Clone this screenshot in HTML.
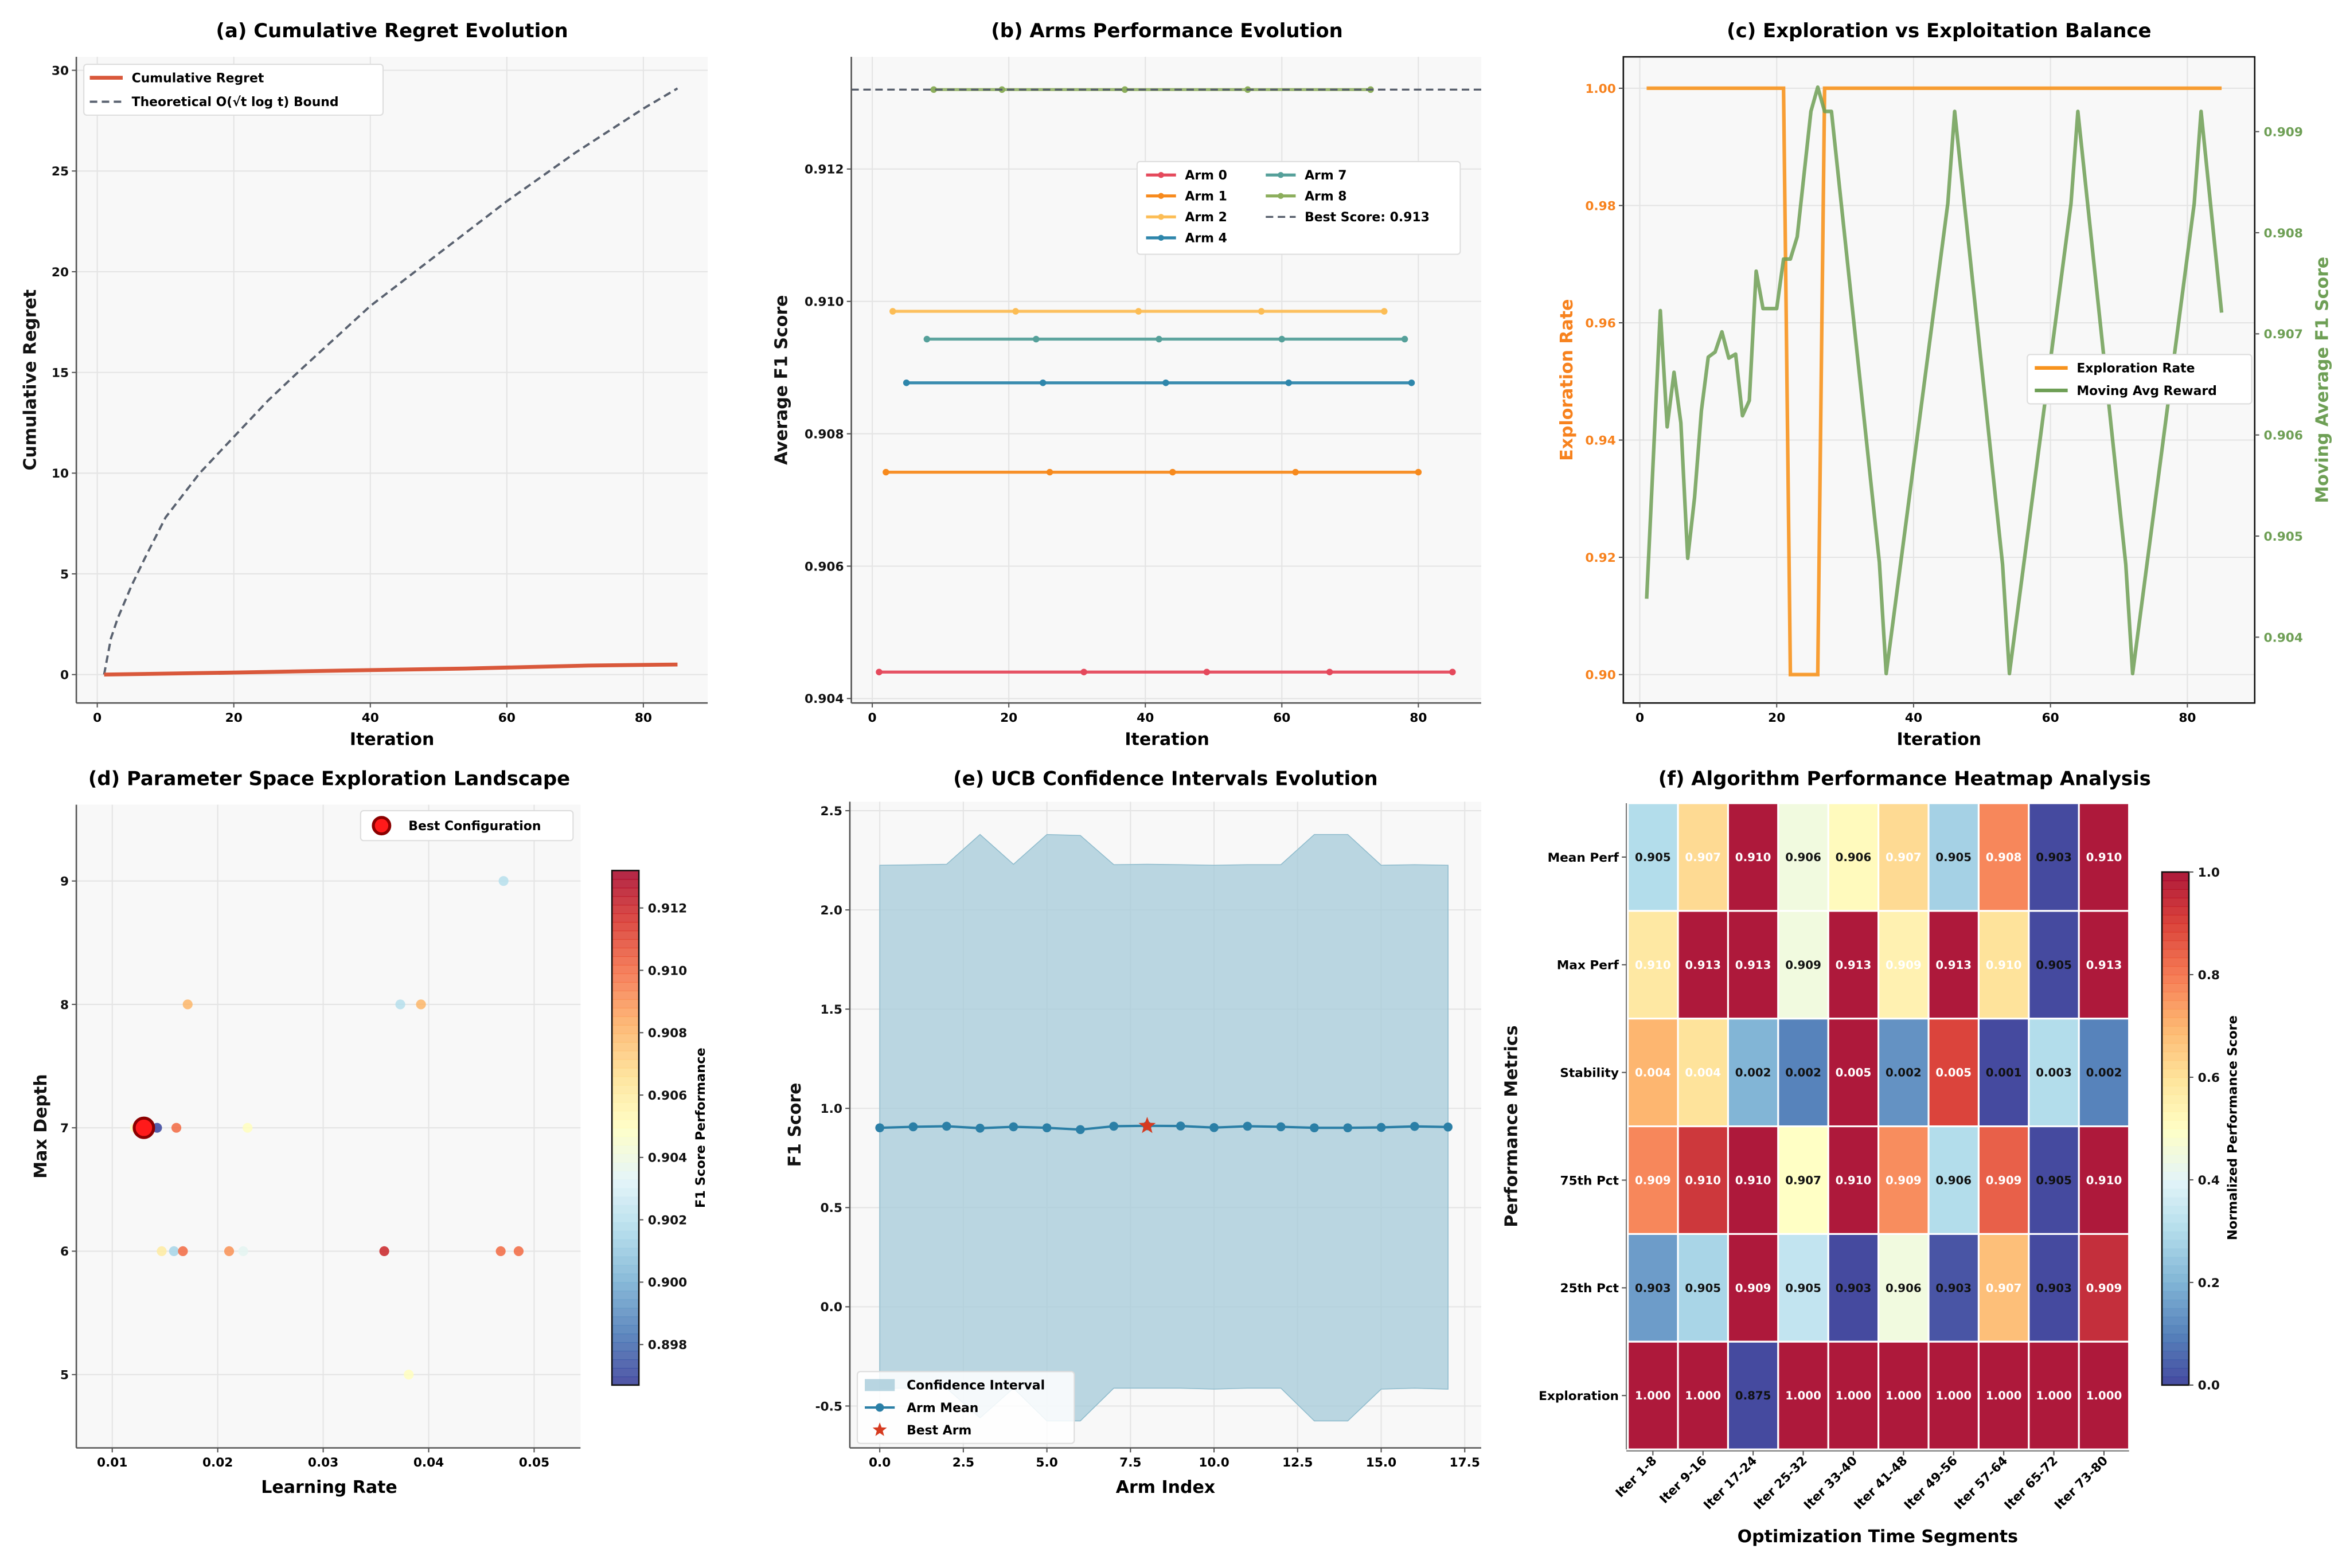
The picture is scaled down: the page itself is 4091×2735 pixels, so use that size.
<!DOCTYPE html>
<html><head><meta charset="utf-8"><style>
html,body{margin:0;padding:0;background:#fff}
svg{display:block}
text{font-family:"DejaVu Sans","Liberation Sans",sans-serif;font-weight:bold}
</style></head><body>
<svg id="chart" xmlns="http://www.w3.org/2000/svg" width="4091" height="2735" viewBox="0 0 1568 1048.3"></svg>
<script>
// ---------- Panel (a) data ----------
const regretIter=[1,20,36,54,72,85];
const regretVals=[0,0.1,0.2,0.3,0.45,0.5];
const boundIter=[1,2,3,4,5,7,10,15,20,25,30,40,50,60,70,80,85];
const boundVals=[0,1.8,2.8,3.6,4.4,5.8,7.8,10.0,11.8,13.6,15.2,18.3,20.9,23.5,25.9,28.1,29.1];
const aXTicks=[0,20,40,60,80];
const aYTicks=[0,5,10,15,20,25,30];
// ---------- Panel (b) data ----------
const armNames=['Arm 0','Arm 1','Arm 2','Arm 4','Arm 7','Arm 8'];
const armIters=[[1,31,49,67,85],[2,26,44,62,80],[3,21,39,57,75],[5,25,43,61,79],[8,24,42,60,78],[9,19,37,55,73]];
const armScores=[0.90440,0.90742,0.90985,0.90877,0.90943,0.91320];
const bestScore=0.9132;
const bXTicks=[0,20,40,60,80];
const bYTicks=[0.904,0.906,0.908,0.910,0.912];
// ---------- Panel (c) data ----------
const explIter=[1,21,22,26,27,85];
const explRate=[1,1,0.9,0.9,1,1];
const rewardIter=[1,3,4,5,6,7,8,9,10,11,12,13,14,15,16,17,18,19,20,21,22,23,25,26,27,28,35,36,45,46,53,54,63,64,71,72,81,82,85];
const rewardVals=[0.90438,0.90723,0.90608,0.90662,0.90612,0.90478,0.90538,0.90624,0.90677,0.90682,0.90702,0.90676,0.9068,0.90619,0.90634,0.90762,0.90725,0.90725,0.90725,0.90774,0.90774,0.90796,0.9092,0.90944,0.9092,0.9092,0.90474,0.90364,0.90829,0.9092,0.90472,0.90364,0.90829,0.9092,0.90472,0.90364,0.90829,0.9092,0.90721];
const cXTicks=[0,20,40,60,80];
const cYTicks=[0.90,0.92,0.94,0.96,0.98,1.00];
const cY2Ticks=[0.904,0.905,0.906,0.907,0.908,0.909];
// ---------- Panel (d) data ----------
const lrVals=[0.0471,0.01715,0.03731,0.03927,0.01215,0.01425,0.01608,0.02283,0.01469,0.01585,0.0167,0.02108,0.02242,0.03579,0.04683,0.04853,0.03811];
const depthVals=[9,8,8,8,7,7,7,7,6,6,6,6,6,6,6,6,5];
const f1Vals=[0.9020,0.9080,0.9020,0.9080,0.9050,0.8970,0.9100,0.9050,0.9060,0.9015,0.9100,0.9090,0.9035,0.9120,0.9100,0.9100,0.9050];
const bestLr=0.0130, bestDepth=7;
const dXTicks=[0.01,0.02,0.03,0.04,0.05];
const dYTicks=[5,6,7,8,9];
const dCbTicks=[0.898,0.900,0.902,0.904,0.906,0.908,0.910,0.912];
// ---------- Panel (e) data ----------
const armIdx=[0,1,2,3,4,5,6,7,8,9,10,11,12,13,14,15,16,17];
const armMeans=[0.902,0.907,0.910,0.900,0.907,0.902,0.893,0.910,0.912,0.911,0.903,0.910,0.907,0.902,0.902,0.904,0.909,0.906];
const ciUpper=[2.225,2.227,2.23,2.38,2.23,2.38,2.375,2.228,2.23,2.228,2.225,2.228,2.228,2.38,2.38,2.225,2.228,2.225];
const ciLower=[-0.41,-0.41,-0.41,-0.56,-0.41,-0.575,-0.575,-0.41,-0.41,-0.41,-0.415,-0.41,-0.41,-0.575,-0.575,-0.415,-0.41,-0.415];
const bestArm=8;
const eXTicks=[0,2.5,5,7.5,10,12.5,15,17.5];
const eYTicks=[-0.5,0,0.5,1.0,1.5,2.0,2.5];
// ---------- Panel (f) data ----------
const segLabels=['Iter 1-8','Iter 9-16','Iter 17-24','Iter 25-32','Iter 33-40','Iter 41-48','Iter 49-56','Iter 57-64','Iter 65-72','Iter 73-80'];
const metricLabels=['Mean Perf','Max Perf','Stability','75th Pct','25th Pct','Exploration'];
const heatText=[
['0.905','0.907','0.910','0.906','0.906','0.907','0.905','0.908','0.903','0.910'],
['0.910','0.913','0.913','0.909','0.913','0.909','0.913','0.910','0.905','0.913'],
['0.004','0.004','0.002','0.002','0.005','0.002','0.005','0.001','0.003','0.002'],
['0.909','0.910','0.910','0.907','0.910','0.909','0.906','0.909','0.905','0.910'],
['0.903','0.905','0.909','0.905','0.903','0.906','0.903','0.907','0.903','0.909'],
['1.000','1.000','0.875','1.000','1.000','1.000','1.000','1.000','1.000','1.000']];
const heatNorm=[
[0.30,0.62,1.00,0.45,0.52,0.62,0.27,0.78,0.00,1.00],
[0.58,1.00,1.00,0.45,1.00,0.55,1.00,0.60,0.00,1.00],
[0.70,0.60,0.20,0.10,1.00,0.13,0.90,0.00,0.30,0.10],
[0.78,0.93,1.00,0.50,1.00,0.77,0.30,0.85,0.00,1.00],
[0.15,0.28,1.00,0.33,0.00,0.45,0.02,0.68,0.00,0.95],
[1,1,0,1,1,1,1,1,1,1]];
const fCbTicks=[0,0.2,0.4,0.6,0.8,1.0];

const NS='http://www.w3.org/2000/svg';
const svg=document.getElementById('chart');
const TK=8.3, TT=13, AL=11.5, LG=8.4;
function mk(tag,attrs,parent){const e=document.createElementNS(NS,tag);for(const k in attrs)e.setAttribute(k,attrs[k]);(parent||svg).appendChild(e);return e;}
function tx(str,x,y,size,anchor,parent,extra){const e=mk('text',Object.assign({x:x,y:y,'font-size':size,'text-anchor':anchor||'middle'},extra||{}),parent);e.textContent=str;return e;}
function lin(d0,d1,r0,r1){return v=>r0+(v-d0)*(r1-r0)/(d1-d0);}
const CM=['#313695','#4575b4','#74add1','#abd9e9','#e0f3f8','#ffffbf','#fee090','#fdae61','#f46d43','#d73027','#a50026'];
function hex(c){return [parseInt(c.substr(1,2),16),parseInt(c.substr(3,2),16),parseInt(c.substr(5,2),16)];}
function cmap(t){t=Math.max(0,Math.min(1,t));const p=t*10;const i=Math.min(9,Math.floor(p));const f=p-i;const a=hex(CM[i]),b=hex(CM[i+1]);return 'rgb('+a.map((v,k)=>Math.round(v+(b[k]-v)*f)).join(',')+')';}
function axesBg(x0,y0,x1,y1,name){const r=mk('rect',{x:x0,y:y0,width:x1-x0,height:y1-y0,fill:'#f8f8f8'});


return r;}
function grid(g,xs,ys,fx,fy,x0,y0,x1,y1){xs.forEach(v=>{const l=mk('line',{x1:fx(v),x2:fx(v),y1:y0,y2:y1,stroke:'#e4e4e4','stroke-width':0.8},g);

});
ys.forEach(v=>{const l=mk('line',{x1:x0,x2:x1,y1:fy(v),y2:fy(v),stroke:'#e4e4e4','stroke-width':0.8},g);

});}
function spinesLB(g,x0,y0,x1,y1){const l1=mk('line',{x1:x0,x2:x0,y1:y0,y2:y1,stroke:'#555','stroke-width':1},g);


const l2=mk('line',{x1:x0,x2:x1,y1:y1,y2:y1,stroke:'#555','stroke-width':1},g);

}
function xticks(g,ticks,fx,y1,fmt){ticks.forEach(v=>{mk('line',{x1:fx(v),x2:fx(v),y1:y1,y2:y1+3,stroke:'#555','stroke-width':0.8},g);const t=tx(fmt(v),fx(v),y1+12.5,TK,'middle',g);

});}
function yticks(g,ticks,fy,x0,fmt,color,right){ticks.forEach(v=>{mk('line',{x1:x0,x2:right?x0+3:x0-3,y1:fy(v),y2:fy(v),stroke:'#555','stroke-width':0.8},g);const t=tx(fmt(v),right?x0+6:x0-5,fy(v)+3,TK,right?'start':'end',g,{fill:color||'#111'});

});}
function title(g,str,x,y){const t=tx(str,x,y,TT,'middle',g);

}
function xlabel(g,str,x,y){const t=tx(str,x,y,AL,'middle',g);

}
function ylabel(g,str,x,y,color){const t=tx(str,x,y,AL,'middle',g,{transform:'rotate(-90 '+x+' '+y+')',fill:color||'#111'});

}
function path(pts){return pts.map((p,i)=>(i?'L':'M')+p[0].toFixed(2)+' '+p[1].toFixed(2)).join(' ');}

// ================= Panel (a) =================
(function(){
const g=mk('g',{});


const x0=51,x1=473,y0=38,y1=470;
const fx=lin(0,80,65,430), fy=lin(0,30,451,47);
g.appendChild(axesBg(x0,y0,x1,y1,'plot-area'));
grid(g,aXTicks,aYTicks,fx,fy,x0,y0,x1,y1);
const b=mk('path',{d:path(boundIter.map((t,i)=>[fx(t),fy(boundVals[i])])),fill:'none',stroke:'#5a6270','stroke-width':1.5,'stroke-dasharray':'5,3','stroke-linejoin':'round'},g);


const r=mk('path',{d:path(regretIter.map((t,i)=>[fx(t),fy(regretVals[i])])),fill:'none',stroke:'#d9583b','stroke-width':2.6},g);


spinesLB(g,x0,y0,x1,y1);
xticks(g,aXTicks,fx,y1,v=>String(v));
yticks(g,aYTicks,fy,x0,v=>String(v));
title(g,'(a) Cumulative Regret Evolution',262,25);
xlabel(g,'Iteration',262,498);
ylabel(g,'Cumulative Regret',24,254);
const lg=mk('g',{},g);


mk('rect',{x:56,y:43,width:200,height:34,fill:'#fff',stroke:'#ddd','stroke-width':0.8,rx:2},lg);
mk('line',{x1:60,x2:82,y1:52,y2:52,stroke:'#d9583b','stroke-width':2.6},lg);
mk('line',{x1:60,x2:82,y1:68,y2:68,stroke:'#5a6270','stroke-width':1.5,'stroke-dasharray':'5,3'},lg);
const l1=tx('Cumulative Regret',88,55,LG,'start',lg);


const l2=tx('Theoretical O(√t log t) Bound',88,71,LG,'start',lg);


})();

// ================= Panel (b) =================
(function(){
const g=mk('g',{});


const x0=569,x1=990,y0=38,y1=470;
const fx=lin(0,80,583,948), fy=lin(0.904,0.912,467,113);
const cols=['#e5495c','#f78a1d','#fcbd55','#2e86ab','#55a09a','#8cae5c'];
g.appendChild(axesBg(x0,y0,x1,y1,'plot-area'));
grid(g,bXTicks,bYTicks,fx,fy,x0,y0,x1,y1);
armNames.forEach((n,a)=>{const its=armIters[a];
const l=mk('path',{d:path(its.map(t=>[fx(t),fy(armScores[a])])),stroke:cols[a],'stroke-width':2,fill:'none','stroke-opacity':a==5?0.85:0.95},g);


its.forEach(t=>{const c=mk('circle',{cx:fx(t),cy:fy(armScores[a]),r:2.2,fill:cols[a]},g);

});});
const bl=mk('line',{x1:x0,x2:x1,y1:fy(bestScore),y2:fy(bestScore),stroke:'#555d6a','stroke-width':1.3,'stroke-dasharray':'5,3'},g);


spinesLB(g,x0,y0,x1,y1);
xticks(g,bXTicks,fx,y1,v=>String(v));
yticks(g,bYTicks,fy,x0,v=>v.toFixed(3));
title(g,'(b) Arms Performance Evolution',780,25);
xlabel(g,'Iteration',780,498);
ylabel(g,'Average F1 Score',526,254);
const lg=mk('g',{},g);


mk('rect',{x:760,y:108,width:216,height:62,fill:'#fff',stroke:'#ddd','stroke-width':0.8,rx:2},lg);
const entries=[[0,766,117],[1,766,131],[2,766,145],[3,766,159],[4,846,117],[5,846,131]];
entries.forEach(e=>{mk('line',{x1:e[1],x2:e[1]+20,y1:e[2],y2:e[2],stroke:cols[e[0]],'stroke-width':2},lg);mk('circle',{cx:e[1]+10,cy:e[2],r:2,fill:cols[e[0]]},lg);
const t=tx(armNames[e[0]],e[1]+26,e[2]+3,LG,'start',lg);

});
mk('line',{x1:846,x2:866,y1:145,y2:145,stroke:'#555d6a','stroke-width':1.3,'stroke-dasharray':'5,3'},lg);
const bt=tx('Best Score: 0.913',872,148,LG,'start',lg);


})();

// ================= Panel (c) =================
(function(){
const g=mk('g',{});


const x0=1085,x1=1507,y0=38,y1=470;
const fx=lin(0,80,1096,1462), fy=lin(0.90,1.00,451,59), fy2=lin(0.904,0.909,426,88);
g.appendChild(axesBg(x0,y0,x1,y1,'plot-area'));
grid(g,cXTicks,cYTicks,fx,fy,x0,y0,x1,y1);
const o=mk('path',{d:path(explIter.map((t,i)=>[fx(t),fy(explRate[i])])),fill:'none',stroke:'#f7931e','stroke-width':2.4,'stroke-opacity':0.9},g);


const gr=mk('path',{d:path(rewardIter.map((t,i)=>[fx(t),fy2(rewardVals[i])])),fill:'none',stroke:'#6e9f55','stroke-width':2.4,'stroke-opacity':0.85,'stroke-linejoin':'round'},g);


const fr=mk('rect',{x:x0,y:y0,width:x1-x0,height:y1-y0,fill:'none',stroke:'#111','stroke-width':1},g);


xticks(g,cXTicks,fx,y1,v=>String(v));
yticks(g,cYTicks,fy,x0,v=>v.toFixed(2),'#f7821e');
yticks(g,cY2Ticks,fy2,x1,v=>v.toFixed(3),'#6e9f55',true);
title(g,'(c) Exploration vs Exploitation Balance',1296,25);
xlabel(g,'Iteration',1296,498);
ylabel(g,'Exploration Rate',1051,254,'#f7821e');
ylabel(g,'Moving Average F1 Score',1556,254,'#6e9f55');
const lg=mk('g',{},g);


mk('rect',{x:1355,y:237,width:150,height:33,fill:'#fff',stroke:'#ddd','stroke-width':0.8,rx:2},lg);
mk('line',{x1:1360,x2:1382,y1:246,y2:246,stroke:'#f7931e','stroke-width':2.4},lg);
mk('line',{x1:1360,x2:1382,y1:261,y2:261,stroke:'#6e9f55','stroke-width':2.4},lg);
const t1=tx('Exploration Rate',1388,249,LG,'start',lg);


const t2=tx('Moving Avg Reward',1388,264,LG,'start',lg);


})();

// ================= Panel (d) =================
(function(){
const g=mk('g',{});


const x0=51,x1=388,y0=538,y1=968;
const fx=lin(0.01,0.05,75,357), fy=lin(5,9,919,589);
const cmin=0.8967,cmax=0.9132;
g.appendChild(axesBg(x0,y0,x1,y1,'plot-area'));
grid(g,dXTicks,dYTicks,fx,fy,x0,y0,x1,y1);
lrVals.forEach((lr,i)=>{const c=mk('circle',{cx:fx(lr),cy:fy(depthVals[i]),r:3.3,fill:cmap((f1Vals[i]-cmin)/(cmax-cmin)),'fill-opacity':0.85},g);

});
const bc=mk('circle',{cx:fx(bestLr),cy:fy(bestDepth),r:6.5,fill:'#ff1a1a',stroke:'#8b0000','stroke-width':2},g);


spinesLB(g,x0,y0,x1,y1);
xticks(g,dXTicks,fx,y1,v=>v.toFixed(2));
yticks(g,dYTicks,fy,x0,v=>String(v));
title(g,'(d) Parameter Space Exploration Landscape',220,525);
xlabel(g,'Learning Rate',220,998);
ylabel(g,'Max Depth',31,753);
const lg=mk('g',{},g);


mk('rect',{x:241,y:542,width:142,height:20,fill:'#fff',stroke:'#ddd','stroke-width':0.8,rx:2},lg);
mk('circle',{cx:255,cy:552,r:5.5,fill:'#ff1a1a',stroke:'#8b0000','stroke-width':2},lg);
const lt=tx('Best Configuration',273,555,LG,'start',lg);


const cb=mk('g',{},g);


const cx0=409,cy0=582,cy1=926,fc=lin(cmin,cmax,cy1,cy0);
for(let k=0;k<60;k++){const t0=k/60;mk('rect',{x:cx0,y:cy1-(k+1)*(cy1-cy0)/60,width:18,height:(cy1-cy0)/60+0.4,fill:cmap(t0+1/120),'fill-opacity':0.85},cb);}
mk('rect',{x:cx0,y:cy0,width:18,height:cy1-cy0,fill:'none',stroke:'#111','stroke-width':1},cb);
yticks(cb,dCbTicks,fc,cx0+18,v=>v.toFixed(3),'#111',true);
const cl=tx('F1 Score Performance',471,754,8.6,'middle',cb,{transform:'rotate(-90 471 754)'});


})();

// ================= Panel (e) =================
(function(){
const g=mk('g',{});


const x0=568,x1=990,y0=536,y1=968;
const fx=lin(0,17.5,588,979), fy=lin(-0.5,2.5,940,542);
g.appendChild(axesBg(x0,y0,x1,y1,'plot-area'));
grid(g,eXTicks,eYTicks,fx,fy,x0,y0,x1,y1);
const pts=armIdx.map((a,i)=>[fx(a),fy(ciUpper[i])]).concat(armIdx.slice().reverse().map(a=>[fx(a),fy(ciLower[a])]));
const band=mk('path',{d:path(pts)+'Z',fill:'#a6cbd9',stroke:'#8fbccd','stroke-width':0.6,'fill-opacity':0.75},g);


const ml=mk('path',{d:path(armIdx.map((a,i)=>[fx(a),fy(armMeans[i])])),fill:'none',stroke:'#2b7fa6','stroke-width':1.6},g);


armIdx.forEach((a,i)=>{const c=mk('circle',{cx:fx(a),cy:fy(armMeans[i]),r:3,fill:'#2b7fa6'},g);

});
function star(cx,cy,R,r){let p=[];for(let k=0;k<10;k++){const ang=-Math.PI/2+k*Math.PI/5;const rr=k%2?r:R;p.push([cx+rr*Math.cos(ang),cy+rr*Math.sin(ang)]);}return path(p)+'Z';}
const st=mk('path',{d:star(fx(bestArm),fy(armMeans[bestArm]),6,2.5),fill:'#d63a1f'},g);


spinesLB(g,x0,y0,x1,y1);
xticks(g,eXTicks,fx,y1,v=>v.toFixed(1));
yticks(g,eYTicks,fy,x0,v=>v.toFixed(1));
title(g,'(e) UCB Confidence Intervals Evolution',779,525);
xlabel(g,'Arm Index',779,998);
ylabel(g,'F1 Score',535,752);
const lg=mk('g',{},g);


mk('rect',{x:573,y:917,width:145,height:48,fill:'#fff',stroke:'#ddd','stroke-width':0.8,rx:2,'fill-opacity':0.85},lg);
mk('rect',{x:578,y:922,width:20,height:8,fill:'#a6cbd9','fill-opacity':0.8},lg);
mk('line',{x1:578,x2:598,y1:941,y2:941,stroke:'#2b7fa6','stroke-width':1.6},lg);
mk('circle',{cx:588,cy:941,r:2.8,fill:'#2b7fa6'},lg);
mk('path',{d:star(588,956,5,2.1),fill:'#d63a1f'},lg);
[['Confidence Interval',929],['Arm Mean',944],['Best Arm',959]].forEach(e=>{const t=tx(e[0],606,e[1],LG,'start',lg);

});
})();

// ================= Panel (f) =================
(function(){
const g=mk('g',{});


const x0=1088,x1=1423,y0=537,y1=969;
const cw=(x1-x0)/segLabels.length, ch=(y1-y0)/metricLabels.length;
heatNorm.forEach((row,r)=>row.forEach((v,c)=>{
const rc=mk('rect',{x:x0+c*cw,y:y0+r*ch,width:cw,height:ch,fill:cmap(v),'fill-opacity':0.9,stroke:'#fff','stroke-width':1.2},g);


const t=tx(heatText[r][c],x0+(c+0.5)*cw,y0+(r+0.5)*ch+2.7,7.6,'middle',g,{fill:v>0.53?'#fff':'#111'});

}));
mk('line',{x1:x0-1,x2:x0-1,y1:y0,y2:y1,stroke:'#777','stroke-width':0.8},g);
mk('line',{x1:x0-1,x2:x1,y1:y1+1,y2:y1+1,stroke:'#777','stroke-width':0.8},g);
metricLabels.forEach((m,r)=>{const y=y0+(r+0.5)*ch;mk('line',{x1:x0-4,x2:x0-1,y1:y,y2:y,stroke:'#555','stroke-width':0.8},g);
const t=tx(m,x0-6,y+3,TK,'end',g);

});
segLabels.forEach((s,c)=>{const x=x0+(c+0.5)*cw;mk('line',{x1:x,x2:x,y1:y1+1,y2:y1+4,stroke:'#555','stroke-width':0.8},g);
const t=tx(s,x+3,y1+8,TK,'end',g,{transform:'rotate(-45 '+(x+3)+' '+(y1+8)+')'});

});
title(g,'(f) Algorithm Performance Heatmap Analysis',1273,525);
xlabel(g,'Optimization Time Segments',1255,1031);
ylabel(g,'Performance Metrics',1014,753);
const cb=mk('g',{},g);


const cx0=1445,cy0=583,cy1=926,fc=lin(0,1,cy1,cy0);
for(let k=0;k<60;k++){mk('rect',{x:cx0,y:cy1-(k+1)*(cy1-cy0)/60,width:18,height:(cy1-cy0)/60+0.4,fill:cmap(k/60+1/120),'fill-opacity':0.9},cb);}
mk('rect',{x:cx0,y:cy0,width:18,height:cy1-cy0,fill:'none',stroke:'#111','stroke-width':1},cb);
yticks(cb,fCbTicks,fc,cx0+18,v=>v.toFixed(1),'#111',true);
const cl=tx('Normalized Performance Score',1495,754,8.6,'middle',cb,{transform:'rotate(-90 1495 754)'});


})();
</script>
</body></html>
